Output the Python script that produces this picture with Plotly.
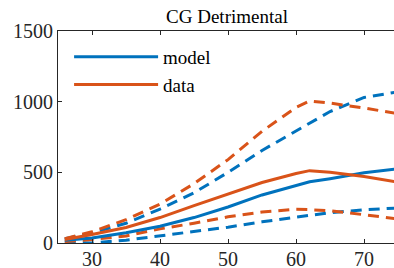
import plotly.graph_objects as go

age = [26, 30, 35, 40, 45, 50, 55, 60, 62, 65, 70, 75]

model_median = [20, 35, 72, 118, 180, 255, 340, 410, 433, 455, 497, 525]
model_upper = [30, 70, 140, 240, 355, 500, 655, 795, 850, 930, 1030, 1070]
model_lower = [5, 0, 20, 50, 80, 112, 150, 185, 198, 215, 235, 248]

data_median = [25, 60, 110, 180, 265, 345, 428, 492, 512, 500, 470, 430]
data_upper = [30, 80, 165, 275, 420, 590, 790, 960, 1005, 990, 955, 915]
data_lower = [10, 25, 50, 100, 140, 185, 220, 238, 236, 228, 200, 170]

x_ticks = [30, 40, 50, 60, 70]
y_ticks = [0, 500, 1000, 1500]

BLUE = "#0072BD"
ORANGE = "#D95319"
AX = "#262626"
FONT = "Liberation Serif"
DASH = "11px,7px"

fig = go.Figure()
fig.add_trace(go.Scatter(x=age, y=model_upper, mode="lines", showlegend=False,
                         line=dict(color=BLUE, width=3, dash=DASH)))
fig.add_trace(go.Scatter(x=age, y=model_lower, mode="lines", showlegend=False,
                         line=dict(color=BLUE, width=3, dash=DASH)))
fig.add_trace(go.Scatter(x=age, y=data_upper, mode="lines", showlegend=False,
                         line=dict(color=ORANGE, width=3, dash=DASH)))
fig.add_trace(go.Scatter(x=age, y=data_lower, mode="lines", showlegend=False,
                         line=dict(color=ORANGE, width=3, dash=DASH)))
fig.add_trace(go.Scatter(x=age, y=model_median, mode="lines", name="model",
                         line=dict(color=BLUE, width=3)))
fig.add_trace(go.Scatter(x=age, y=data_median, mode="lines", name="data",
                         line=dict(color=ORANGE, width=3)))

fig.update_layout(
    width=394, height=268,
    margin=dict(l=58, r=0, t=31, b=25, autoexpand=False),
    paper_bgcolor="white", plot_bgcolor="white",
    font=dict(family=FONT, size=20, color=AX),
    title=dict(text="CG Detrimental", x=0.503, xref="paper", xanchor="center",
               y=1 - 16.5 / 268, yanchor="middle", automargin=False,
               font=dict(family=FONT, size=19, color="black")),
    legend=dict(x=0.033, y=0.967, xanchor="left", yanchor="top",
                bgcolor="rgba(0,0,0,0)", borderwidth=0, itemwidth=84,
                font=dict(family=FONT, size=19, color="black"),
                tracegroupgap=0),
    showlegend=True,
    hovermode=False,
)
fig.update_xaxes(range=[25, 74.4], tickvals=x_ticks, ticks="inside", ticklen=4,
                 tickcolor=AX, showline=True, linecolor=AX, linewidth=1,
                 mirror="ticks", showgrid=False, zeroline=False, automargin=False,
                 ticklabelstandoff=-2,
                 tickfont=dict(family=FONT, size=20, color=AX))
fig.update_yaxes(range=[0, 1500], tickvals=y_ticks, ticks="inside", ticklen=4,
                 tickcolor=AX, showline=True, linecolor=AX, linewidth=1,
                 showgrid=False, zeroline=False, automargin=False,
                 tickfont=dict(family=FONT, size=20, color=AX))

fig.write_html(
    "out.html",
    config={"displayModeBar": False},
    post_script="document.body.style.margin='0';document.body.style.overflow='hidden';",
)
